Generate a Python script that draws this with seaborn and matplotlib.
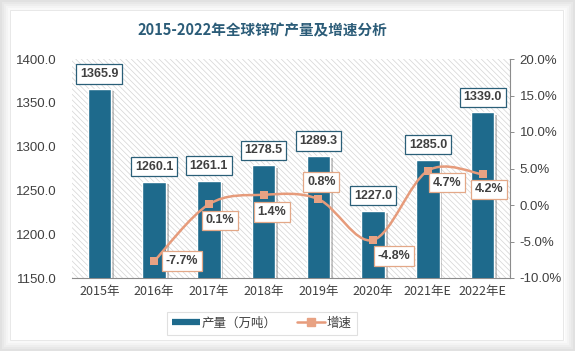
import numpy as np
import pandas as pd
import matplotlib
matplotlib.use("Agg")
import matplotlib.pyplot as plt
import seaborn as sns
from matplotlib.path import Path
from matplotlib.patches import PathPatch, Rectangle
from matplotlib.lines import Line2D
import matplotlib.patheffects as pe

categories = ["2015年", "2016年", "2017年", "2018年", "2019年", "2020年", "2021年E", "2022年E"]
production = [1365.9, 1260.1, 1261.1, 1278.5, 1289.3, 1227.0, 1285.0, 1339.0]
growth_cats = categories[1:]
growth = [-7.7, 0.1, 1.4, 0.8, -4.8, 4.7, 4.2]
title = "2015-2022年全球锌矿产量及增速分析"
bar_name = "产量（万吨）"
line_name = "增速"

sns.set_theme(style="white")
plt.rcParams['font.family'] = ['Noto Sans CJK SC', 'DejaVu Sans']
plt.rcParams['hatch.linewidth'] = 0.5

BAR = "#1e6a8c"
LINE = "#e69b7b"
MARK = "#e8a283"
TXT = "#404040"
NUMFONT = ['Liberation Sans', 'DejaVu Sans']

fig = plt.figure(figsize=(5.75, 3.51), dpi=100)
fig.patch.set_facecolor("#ffffff")
# card shadow frame
for k, a in enumerate([0.05, 0.05, 0.06, 0.07, 0.08]):
    pad = 10 - 2 * k
    fig.patches.append(Rectangle((0, 0), 1, 1, transform=fig.transFigure, facecolor="none",
                                 edgecolor="#9a9a9a", linewidth=pad * 2 * 0.72, alpha=a, zorder=-3))
fig.patches.append(Rectangle((10 / 575, 11 / 351), 553 / 575, 330 / 351, transform=fig.transFigure,
                             facecolor="white", edgecolor="#e4e4e4", linewidth=0.6, zorder=-2))

ax = fig.add_axes([72 / 575, 1 - 278 / 351, 438 / 575, 219 / 351])
ax.patch.set_alpha(0)

df = pd.DataFrame({"cat": categories, "val": production})
sns.barplot(data=df, x="cat", y="val", ax=ax, color=BAR, width=0.43, saturation=1,
            edgecolor="white", linewidth=1.0, zorder=3)
for p in ax.patches:
    p.set_path_effects([pe.SimplePatchShadow(offset=(2, -1.5), shadow_rgbFace="#555555", alpha=0.35),
                        pe.Normal()])

ax.set_ylim(1150, 1400)
ax.set_xlim(-0.5, len(categories) - 0.5)
ax.set_yticks(np.arange(1150, 1401, 50))
ax.set_yticklabels([f"{v:.1f}" for v in np.arange(1150, 1401, 50)], fontsize=9.5, color=TXT,
                   family=NUMFONT)
ax.set_xticks(range(len(categories)))
ax.set_xticklabels(categories, fontsize=9, color=TXT)
ax.tick_params(axis="x", length=0, pad=5)
ax.tick_params(axis="y", length=0, pad=11)
ax.set_xlabel("")
ax.set_ylabel("")
for s in ["top", "left", "right"]:
    ax.spines[s].set_visible(False)
ax.spines["bottom"].set_color("#8c8c8c")
ax.spines["bottom"].set_linewidth(0.8)

# hatched plot background
ax.add_patch(Rectangle((0, 0), 1, 1, transform=ax.transAxes, facecolor="white",
                       edgecolor="#d4d4d4", hatch="\\\\\\\\\\\\", linewidth=0, zorder=0))

for i, v in enumerate(production):
    ax.annotate(f"{v:.1f}", xy=(i, v), xytext=(0, 15), textcoords="offset pixels",
                ha="center", va="center", fontsize=9, fontweight="bold", color=TXT,
                family=NUMFONT, zorder=6,
                bbox=dict(boxstyle="square,pad=0.3", facecolor="white", edgecolor="#2a5f78", linewidth=0.9))

ax2 = ax.twinx()
ax2.set_ylim(-10, 20)
ax2.set_yticks(np.arange(-10, 21, 5))
ax2.set_yticklabels([f"{v:.1f}%" for v in np.arange(-10, 21, 5)], fontsize=9.5, color=TXT,
                    family=NUMFONT)
ax2.tick_params(axis="y", length=3, width=0.7, color="#8c8c8c", pad=4, direction="out")
for s in ["top", "left", "bottom"]:
    ax2.spines[s].set_visible(False)
ax2.spines["right"].set_color("#8c8c8c")
ax2.spines["right"].set_linewidth(0.8)

# smooth line (Bezier through data points, Excel style)
xs = np.array([categories.index(c) for c in growth_cats], dtype=float)
ys = np.array(growth, dtype=float)
verts = [(xs[0], ys[0])]
codes = [Path.MOVETO]
n = len(xs)
for i in range(n - 1):
    p0 = np.array([xs[max(i - 1, 0)], ys[max(i - 1, 0)]])
    p1 = np.array([xs[i], ys[i]])
    p2 = np.array([xs[i + 1], ys[i + 1]])
    p3 = np.array([xs[min(i + 2, n - 1)], ys[min(i + 2, n - 1)]])
    c1 = p1 + (p2 - p0) / 6
    c2 = p2 - (p3 - p1) / 6
    verts += [tuple(c1), tuple(c2), tuple(p2)]
    codes += [Path.CURVE4, Path.CURVE4, Path.CURVE4]
ax2.add_patch(PathPatch(Path(verts, codes), facecolor="none", edgecolor=LINE, linewidth=1.8, zorder=4))
gdf = pd.DataFrame({"x": xs, "y": ys})
sns.scatterplot(data=gdf, x="x", y="y", ax=ax2, marker="s", s=38, color=MARK, edgecolor=MARK,
                linewidth=0, zorder=5)
ax2.set_xlim(-0.5, len(categories) - 0.5)
ax2.set_ylim(-10, 20)
ax2.set_xlabel("")
ax2.set_ylabel("")

offsets = [(28, 0), (11, -16), (8, -17), (3, 17), (21, -16), (19, -12), (6, -15)]
for x, y, off in zip(xs, ys, offsets):
    ax2.annotate(f"{y:.1f}%", xy=(x, y), xytext=off, textcoords="offset pixels",
                 ha="center", va="center", fontsize=9, fontweight="bold", color=TXT,
                 family=NUMFONT, zorder=7,
                 bbox=dict(boxstyle="square,pad=0.3", facecolor="white", edgecolor="#e3a888", linewidth=0.9))

fig.text(262 / 575, 1 - 30 / 351, title, ha="center", va="center", fontsize=10.5,
         fontweight="bold", color="#2b5c78")

handles = [Line2D([0], [0], color=BAR, linewidth=4.5, solid_capstyle="butt"),
           Line2D([0], [0], color=LINE, linewidth=1.8, marker="s", markersize=6, markerfacecolor=MARK,
                  markeredgecolor=MARK)]
leg = fig.legend(handles, [bar_name, line_name], loc="center", bbox_to_anchor=(262 / 575, 1 - 323 / 351),
                 ncol=2, frameon=True, fontsize=9, handlelength=2.2, columnspacing=1.6,
                 borderpad=0.4, handletextpad=0.2, fancybox=False)
leg.get_frame().set_edgecolor("#d9d9d9")
leg.get_frame().set_linewidth(0.8)
for t in leg.get_texts():
    t.set_color(TXT)

fig.savefig("out.png", dpi=100)
